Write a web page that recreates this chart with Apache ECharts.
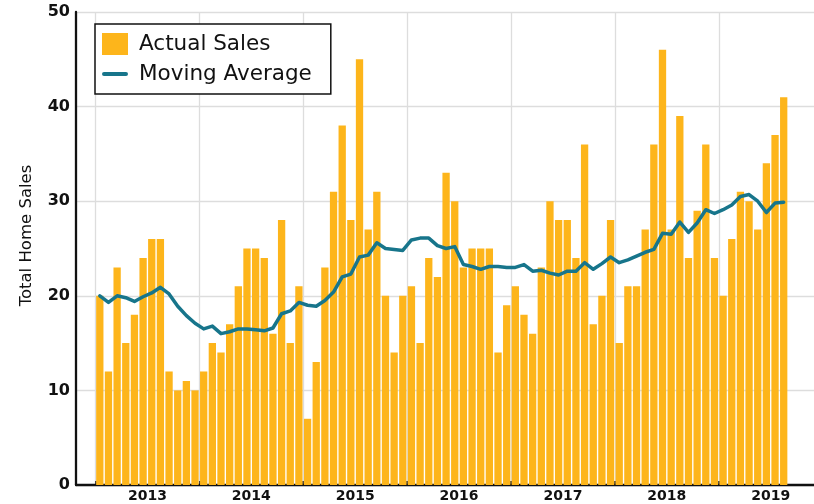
<!DOCTYPE html>
<html>
<head>
<meta charset="utf-8">
<script src="https://cdn.jsdelivr.net/npm/echarts@6/dist/echarts.min.js"></script>
<style>
  html, body { margin: 0; padding: 0; background: #fff; }
  #chart { width: 814px; height: 504px; }
</style>
</head>
<body>
<div id="chart"></div>
<script>
// monthly sales, Jan 2013 .. Aug 2019
const actualSales = [
  20, 12, 23, 15, 18, 24, 26, 26, 12, 10, 11, 10,
  12, 15, 14, 17, 21, 25, 25, 24, 16, 28, 15, 21,
  7, 13, 23, 31, 38, 28, 45, 27, 31, 20, 14, 20,
  21, 15, 24, 22, 33, 30, 23, 25, 25, 25, 14, 19,
  21, 18, 16, 23, 30, 28, 28, 24, 36, 17, 20, 28,
  15, 21, 21, 27, 36, 46, 27, 39, 24, 29, 36, 24,
  20, 26, 31, 30, 27, 34, 37, 41
];
const movingAverage = [
  20.0, 19.3, 20.0, 19.8, 19.4, 19.9, 20.3, 20.9, 20.2, 18.9, 17.9, 17.1,
  16.5, 16.8, 16.0, 16.2, 16.5, 16.5, 16.4, 16.3, 16.6, 18.1, 18.4, 19.3,
  19.0, 18.9, 19.5, 20.4, 22.0, 22.3, 24.1, 24.3, 25.6, 25.0, 24.9, 24.8,
  25.9, 26.1, 26.1, 25.3, 25.0, 25.2, 23.3, 23.1, 22.8, 23.1, 23.1, 23.0,
  23.0, 23.3, 22.6, 22.7, 22.4, 22.2, 22.6, 22.6, 23.5, 22.8, 23.4, 24.1,
  23.5, 23.8, 24.2, 24.6, 24.9, 26.6, 26.5, 27.8, 26.7, 27.7, 29.1, 28.7,
  29.1, 29.6, 30.5, 30.7, 30.0, 28.8, 29.8, 29.9
];
const years = ['2013', '2014', '2015', '2016', '2017', '2018', '2019'];
const yearStarts = [0, 12, 24, 36, 48, 60, 72];
const yearMids = [6, 18, 30, 42, 54, 66, 78];

// month i is drawn at x = i + 0.5 (months since Jan 2013)
let barData = [];
let lineData = [];
for (let i = 0; i < actualSales.length; i++) {
  barData.push([i + 0.5, actualSales[i]]);
  lineData.push([i + 0.5, movingAverage[i]]);
}

// legend line icon: a rounded stroke inside a 26x22 box
const lineIcon = 'path://M0,0 L0.01,0 M26,22 L25.99,22 M2,9 L24,9 A2,2 0 0 1 24,13 L2,13 A2,2 0 0 1 2,9 Z';

let chart = echarts.init(document.getElementById('chart'));
let option = {
  animation: false,
  backgroundColor: '#ffffff',
  textStyle: {
    fontFamily: 'DejaVu Sans'
  },
  grid: {
    left: 76,
    right: 0,
    top: 12,
    bottom: 19
  },
  legend: {
    data: [
      { name: 'Actual Sales', icon: 'rect' },
      { name: 'Moving Average', icon: lineIcon }
    ],
    orient: 'vertical',
    left: 95,
    top: 24,
    backgroundColor: '#ffffff',
    borderColor: '#111111',
    borderWidth: 1.5,
    borderRadius: 0,
    padding: [9, 19, 9, 7],
    itemWidth: 26,
    itemHeight: 22,
    itemGap: 8,
    textStyle: {
      fontFamily: 'DejaVu Sans',
      fontSize: 21.5,
      color: '#111111',
      padding: [0, 0, 0, 6]
    }
  },
  xAxis: {
    type: 'value',
    min: -2.25,
    max: 83,
    axisLine: {
      show: true,
      onZero: false,
      lineStyle: { color: '#111111', width: 2.3 }
    },
    axisTick: {
      show: true,
      inside: true,
      length: 4,
      customValues: yearStarts,
      lineStyle: { color: '#111111', width: 1.5 }
    },
    axisLabel: {
      customValues: yearMids,
      formatter: function (v) {
        return years[Math.floor(v / 12)];
      },
      margin: 4,
      color: '#111111',
      fontWeight: 'bold',
      fontSize: 14,
      fontFamily: 'DejaVu Sans'
    },
    splitLine: {
      show: true,
      lineStyle: { color: '#dddddd', width: 1.3 }
    }
  },
  yAxis: {
    type: 'value',
    min: 0,
    max: 50,
    interval: 10,
    name: 'Total Home Sales',
    nameLocation: 'middle',
    nameGap: 41,
    nameTextStyle: {
      fontFamily: 'DejaVu Sans',
      fontSize: 16.5,
      color: '#111111',
      padding: [0, 0, 0, 26]
    },
    axisLine: {
      show: true,
      onZero: false,
      lineStyle: { color: '#111111', width: 2.3 }
    },
    axisTick: { show: false },
    axisLabel: {
      margin: 6,
      color: '#111111',
      fontWeight: 'bold',
      fontSize: 16,
      fontFamily: 'DejaVu Sans'
    },
    splitLine: {
      show: true,
      lineStyle: { color: '#dddddd', width: 1.3 }
    }
  },
  series: [
    {
      name: 'Actual Sales',
      type: 'bar',
      barWidth: 7.3,
      data: barData,
      itemStyle: { color: '#fdb51b' },
      z: 2
    },
    {
      name: 'Moving Average',
      type: 'line',
      data: lineData,
      symbol: 'none',
      lineStyle: { color: '#17758b', width: 3.5, join: 'round', cap: 'round' },
      itemStyle: { color: '#17758b' },
      z: 3
    }
  ]
};
chart.setOption(option);
</script>
</body>
</html>
